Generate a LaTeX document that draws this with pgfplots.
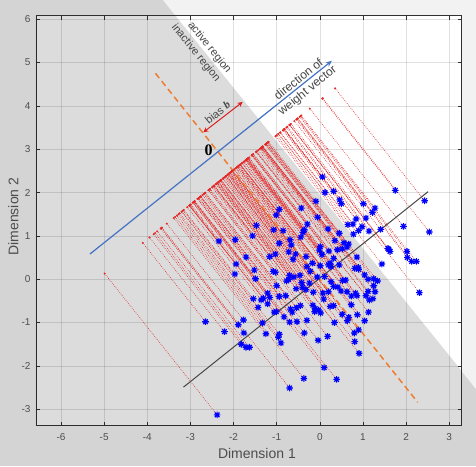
\documentclass[border=0pt]{standalone}
\usepackage{fontspec}
\setmainfont{Liberation Sans}
\newfontfamily\serifbf{Liberation Serif}
\usepackage{pgfplots}
\pgfplotsset{compat=1.18}
\usepackage{pgfplotstable}
\usetikzlibrary{arrows.meta}

\definecolor{tickgray}{RGB}{77,77,77}
\definecolor{axgray}{RGB}{50,50,50}
\definecolor{bgout}{RGB}{212,212,212}
\definecolor{bgwhite}{RGB}{242,242,242}
\definecolor{wblue}{RGB}{68,114,196}
\definecolor{borange}{RGB}{237,125,49}
\definecolor{projred}{RGB}{228,40,40}
\definecolor{biasred}{RGB}{220,30,30}
\definecolor{lgray}{RGB}{70,70,70}

\pgfdeclareplotmark{mstar}{%
  \pgfpathmoveto{\pgfqpoint{-\pgfplotmarksize}{0pt}}\pgfpathlineto{\pgfqpoint{\pgfplotmarksize}{0pt}}%
  \pgfpathmoveto{\pgfqpoint{0pt}{-\pgfplotmarksize}}\pgfpathlineto{\pgfqpoint{0pt}{\pgfplotmarksize}}%
  \pgfpathmoveto{\pgfqpoint{-0.707\pgfplotmarksize}{-0.707\pgfplotmarksize}}\pgfpathlineto{\pgfqpoint{0.707\pgfplotmarksize}{0.707\pgfplotmarksize}}%
  \pgfpathmoveto{\pgfqpoint{-0.707\pgfplotmarksize}{0.707\pgfplotmarksize}}\pgfpathlineto{\pgfqpoint{0.707\pgfplotmarksize}{-0.707\pgfplotmarksize}}%
  \pgfusepathqstroke}

\pgfplotstableread{
x y
0.06 2.36
0.12 2.00
0.32 2.03
0.46 1.83
0.50 1.74
-0.09 1.80
1.01 1.74
1.28 1.64
1.22 1.54
1.75 2.05
2.43 1.81
2.54 1.09
1.94 1.22
1.41 1.15
1.07 1.41
0.84 1.39
0.77 1.27
0.65 1.26
0.90 1.12
0.78 1.04
0.98 1.21
1.14 1.11
1.58 0.71
1.63 0.64
1.60 0.69
2.02 0.64
2.03 0.50
2.13 0.41
2.24 0.41
1.44 0.35
2.31 -0.31
-0.43 1.64
-0.05 1.43
-0.94 1.61
-1.01 1.48
-1.47 1.24
-1.56 1.00
-2.34 0.88
-1.96 0.91
-1.71 0.51
-1.94 0.35
-1.97 0.12
-1.52 0.21
-1.49 0.01
-1.07 1.14
-0.85 1.12
-0.39 1.08
-0.29 1.27
-0.36 1.14
0.19 1.16
0.01 0.75
-0.01 0.67
0.35 0.89
0.56 0.84
0.67 0.81
0.52 0.70
0.41 0.68
0.21 0.65
0.86 0.51
0.05 0.57
0.24 0.37
0.20 0.33
0.26 0.29
0.45 0.33
0.81 0.25
0.89 0.27
1.12 0.00
1.25 0.01
1.34 -0.04
1.25 -0.15
1.12 -0.28
1.28 -0.29
1.07 -0.38
1.15 -0.48
1.23 -0.45
0.73 -0.39
0.83 -0.32
0.86 -0.38
0.63 -0.29
0.49 -0.27
0.53 -0.03
0.60 -0.02
0.73 -0.59
1.13 -0.76
0.87 -0.82
1.04 -0.96
0.67 -0.88
0.52 -0.81
0.64 -0.96
0.34 -1.00
0.90 -1.17
0.80 -1.24
0.81 -1.44
0.91 -1.71
0.10 -2.04
0.39 -2.31
-0.37 -2.29
-0.70 -2.51
-0.04 -1.41
0.18 -1.32
-0.36 -1.24
-0.90 -1.47
-0.94 -1.27
-0.96 -1.34
-1.25 -1.26
-1.33 -1.01
-1.77 -0.94
-1.89 -1.05
-1.76 -1.24
-1.82 -1.50
-1.71 -1.57
-1.63 -1.57
-2.65 -0.98
-2.21 -1.21
-2.38 -3.13
-1.54 -0.45
-1.43 -0.65
-1.31 -0.44
-1.21 -0.32
-0.94 -0.40
-1.06 -0.76
-1.01 -0.75
-0.83 -0.87
-0.70 -0.99
-0.64 -0.76
-0.68 -0.69
-0.54 -0.66
-0.45 -0.61
-0.53 -0.98
-0.30 -0.95
-0.12 -0.75
-0.03 -0.71
0.02 -0.78
-0.11 -0.68
-0.16 -0.60
0.09 -0.46
0.24 -0.63
0.32 -0.61
-0.15 -0.30
-0.32 -0.24
-0.40 -0.19
-0.24 -0.09
-0.72 0.00
-0.77 -0.04
-0.70 0.09
-0.60 0.05
-0.46 0.09
-0.55 -0.22
-0.79 -0.38
-1.00 -0.15
-1.08 0.18
-1.03 0.16
-1.16 0.52
-1.03 0.58
-0.94 0.83
-0.66 0.79
-0.56 0.58
-0.32 0.52
-0.17 0.37
-0.30 0.29
0.01 0.31
0.11 0.06
0.26 -0.06
0.32 -0.17
0.07 -0.32
0.20 -0.29
-0.69 0.91
-0.44 0.97
-0.62 0.46
-0.72 0.63
0.45 1.06
0.63 0.74
0.42 -0.18
1.04 0.10
0.90 0.23
0.32 0.48
-1.16 -0.42
-1.21 -0.57
-1.36 -0.48
-0.22 0.18
-0.42 -0.08
-0.06 0.05
}\pts

\begin{document}
\begin{tikzpicture}
\useasboundingbox (-36pt,-40.3pt) rectangle (440pt,425.7pt);
\fill[bgout] (-36pt,-40.3pt) rectangle (440pt,425.7pt);
\fill[bgwhite] (126.9pt,425.7pt) -- (440pt,36.7pt) -- (440pt,425.7pt) -- cycle;
\begin{axis}[
  width=425.7pt, height=410pt, scale only axis,
  xmin=-6.58, xmax=3.29, ymin=-3.38, ymax=6.08,
  xtick={-6,-5,-4,-3,-2,-1,0,1,2,3},
  ytick={-3,-2,-1,0,1,2,3,4,5,6},
  tick align=inside, major tick length=4pt,
  tick style={axgray, line width=0.6pt},
  axis line style={axgray, line width=0.8pt},
  grid=major, grid style={black, opacity=0.12, line width=0.5pt},
  axis background/.style={fill=white},
  ticklabel style={font=\fontsize{10}{12}\selectfont, text=tickgray},
  /pgf/number format/assume math mode=true,
  xticklabel style={yshift=-4pt},
  yticklabel style={xshift=-2pt},
  xlabel={Dimension 1}, ylabel={Dimension 2},
  label style={font=\fontsize{14}{16}\selectfont, text=tickgray},
  xlabel style={at={(axis description cs:0.519,-0.0683)}, anchor=center},
  ylabel style={at={(axis description cs:-0.0533,0.51)}, anchor=center},
]
% inactive region overlay
\addplot[draw=none, fill=black, fill opacity=0.137] coordinates
  {(-6.58,6.08) (-3.348,6.08) (3.29,-2.118) (3.29,-3.38) (-6.58,-3.38)} -- cycle;
% projection lines
\addplot[projred, line width=0.65pt, dash pattern=on 0.65pt off 1.35pt, no marks,
  quiver={u={-2.0097-0.3902*\thisrow{x}+0.4878*\thisrow{y}},
          v={2.5122+0.4878*\thisrow{x}-0.6098*\thisrow{y}}}] table[x=x,y=y] {\pts};
\addplot[only marks, mark=*, mark size=0.8pt, projred] table[
  x expr={0.6098*\thisrow{x}+0.4878*\thisrow{y}-2.0097},
  y expr={0.4878*\thisrow{x}+0.3902*\thisrow{y}+2.5122}] {\pts};
% decision boundary (dashed)
\addplot[borange, line width=1.5pt, dash pattern=on 6pt off 4pt] coordinates {(-3.81,4.75) (2.27,-2.84)};
% black line
\addplot[lgray, line width=1pt] coordinates {(-3.16,-2.49) (2.51,2.02)};
% data points
\addplot[only marks, mark=mstar, mark size=3.3pt, blue, line width=1.15pt] table[x=x,y=y] {\pts};
% weight vector
\addplot[wblue, line width=1.2pt, -{Stealth[length=6pt,width=5pt]}] coordinates {(-5.33,0.58) (0.28,5.04)};
% bias arrow
\addplot[biasred, line width=1pt, {Stealth[length=5pt,width=5pt]}-{Stealth[length=5pt,width=5pt]}] coordinates {(-2.70,3.39) (-1.79,4.09)};
% annotations
\node[rotate=38.8, font=\fontsize{11}{13}\selectfont, text=lgray] at (axis cs:-2.37,3.85) {bias {\serifbf\bfseries\itshape b}};
\node[rotate=38.8, align=center, font=\fontsize{12}{14}\selectfont, text=lgray] at (axis cs:-0.38,4.47) {direction of\\weight vector};
\node[rotate=-51.2, align=right, font=\fontsize{11}{14}\selectfont, text=lgray] at (axis cs:-2.75,5.32) {active region\\inactive region};
\node[font=\serifbf\bfseries\fontsize{16}{16}\selectfont] at (axis cs:-2.58,2.98) {0};
\end{axis}
\end{tikzpicture}
\end{document}
